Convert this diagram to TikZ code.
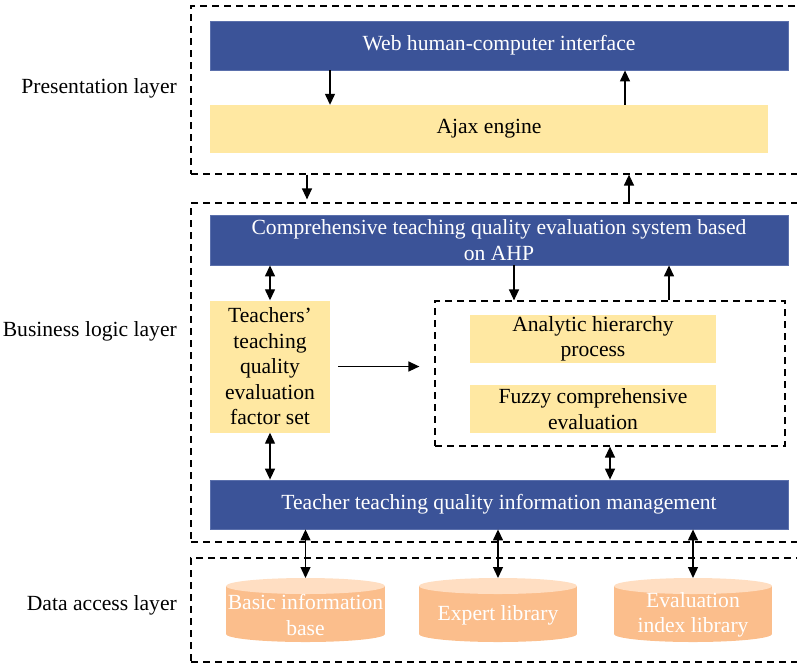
\documentclass[tikz,border=0pt]{standalone}
\usepackage{fontspec}
\setmainfont{Liberation Serif}
\usetikzlibrary{arrows.meta}
\definecolor{boxblue}{HTML}{3B5398}
\definecolor{boxblueedge}{HTML}{5B70AC}
\definecolor{boxyellow}{HTML}{FFE8A2}
\definecolor{cylbodyc}{HTML}{FBBE8C}
\definecolor{cyltopc}{HTML}{FFDEC2}

% database drawn as a flat cylinder: name, left x, right x, label
\newcommand\dbcyl[4]{%
  \fill[cylbodyc] (#2,586) rectangle (#3,634);
  \fill[cylbodyc] ({((#2)+(#3))/2},634) ellipse [x radius={((#3)-(#2))/2*1pt}, y radius=8pt];
  \fill[cyltopc] ({((#2)+(#3))/2},586) ellipse [x radius={((#3)-(#2))/2*1pt}, y radius=8pt];
  \coordinate (#1top) at ({((#2)+(#3))/2},578);
  \node[cyltext] (#1) at ({((#2)+(#3))/2},615) {#4};
}

\begin{document}
\begin{tikzpicture}[x=1pt,y=-1pt,
  font=\fontsize{21.6}{25.5}\selectfont,
  layerbox/.style={draw, dashed, dash pattern=on 7pt off 5pt, line width=1.2pt, inner sep=0pt},
  bluebox/.style={fill=boxblue, draw=boxblueedge, line width=0.8pt, text=white, inner sep=0pt, align=center},
  yellowbox/.style={fill=boxyellow, text=black, inner sep=0pt, align=center},
  cyltext/.style={text=white, inner sep=0pt, align=center},
  layerlabel/.style={anchor=east, inner sep=0pt},
  arr/.style={-{Triangle[length=11pt,width=10pt]}, line width=1.3pt},
  darr/.style={{Triangle[length=11pt,width=10pt]}-{Triangle[length=11pt,width=10pt]}, line width=1.3pt}]
\useasboundingbox (0,0) rectangle (797,665);

% layer frames
\node[layerbox, minimum width=620pt, minimum height=168pt] (pres) at (501,90) {};
\node[layerbox, minimum width=620pt, minimum height=339pt] (biz) at (501,372.5) {};
\node[layerbox, minimum width=620pt, minimum height=104pt] (data) at (501,610) {};

% layer names
\node[layerlabel] (preslabel) at (177,88) {Presentation layer};
\node[layerlabel] (bizlabel) at (177,331) {Business logic layer};
\node[layerlabel] (datalabel) at (177,605) {Data access layer};

% presentation layer
\node[bluebox, minimum width=578pt, minimum height=49pt] (web) at (499,45.5) {Web human-computer interface};
\node[yellowbox, minimum width=558pt, minimum height=48pt] (ajax) at (489,129) {Ajax engine};

% business logic layer
\node[bluebox, minimum width=578pt, minimum height=50pt] (ahpsys) at (499,240)
  {Comprehensive teaching quality evaluation system based\\on AHP};
\node[yellowbox, minimum width=120pt, minimum height=132pt] (factor) at (270,366.5)
  {Teachers'\\teaching\\quality\\evaluation\\factor set};
\node[layerbox, minimum width=350pt, minimum height=145pt] (inner) at (610,373.5) {};
\node[yellowbox, minimum width=246pt, minimum height=48pt] (ahp) at (593,339) {Analytic hierarchy\\process};
\node[yellowbox, minimum width=246pt, minimum height=48pt] (fuzzy) at (593,409) {Fuzzy comprehensive\\evaluation};
\node[bluebox, minimum width=578pt, minimum height=49pt] (mgmt) at (499,504.5)
  {Teacher teaching quality information management};

% data access layer
\dbcyl{basic}{226}{385}{Basic information\\base}
\dbcyl{expert}{419}{577}{Expert library}
\dbcyl{evalidx}{614}{772}{Evaluation\\index library}

% connector columns
\coordinate (xA) at (330,0);
\coordinate (xB) at (625,0);
\coordinate (xC) at (307,0);
\coordinate (xD) at (629,0);
\coordinate (xF) at (514,0);
\coordinate (xG) at (669,0);
\coordinate (xH) at (610,0);

% connectors
\draw[arr] (web.south -| xA) -- (ajax.north -| xA);
\draw[arr] (ajax.north -| xB) -- (web.south -| xB);
\draw[arr, shorten >=3pt] (pres.south -| xC) -- (biz.north -| xC);
\draw[arr] (biz.north -| xD) -- (pres.south -| xD);
\draw[darr] (ahpsys.south -| factor) -- (factor.north);
\draw[arr] (ahpsys.south -| xF) -- (inner.north -| xF);
\draw[arr] (inner.north -| xG) -- (ahpsys.south -| xG);
\draw[arr, shorten <=8pt, shorten >=15pt] (factor.east) -- (factor.east -| inner.west);
\draw[darr] (factor.south) -- (mgmt.north -| factor);
\draw[darr] (inner.south -| xH) -- (mgmt.north -| xH);
\draw[darr] (mgmt.south -| basictop) -- (basictop);
\draw[darr] (mgmt.south -| experttop) -- (experttop);
\draw[darr] (mgmt.south -| evalidxtop) -- (evalidxtop);
\end{tikzpicture}
\end{document}
